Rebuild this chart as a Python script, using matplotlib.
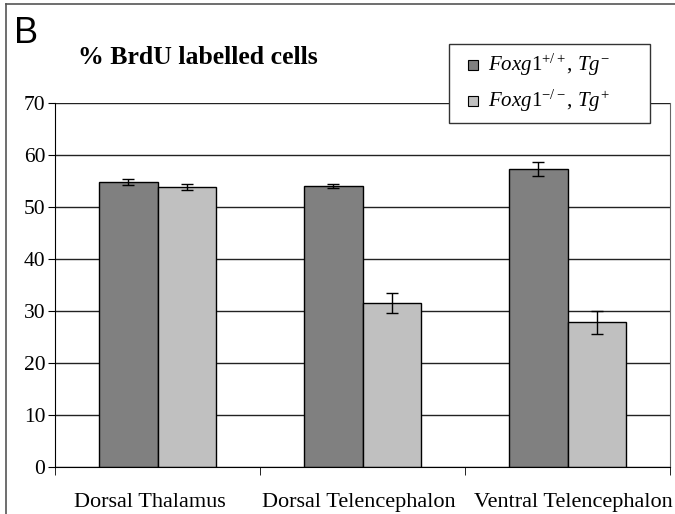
import numpy as np
from matplotlib import pyplot as plt
from matplotlib.lines import Line2D
from matplotlib.patches import Rectangle

# data
categories = ['Dorsal Thalamus', 'Dorsal Telencephalon', 'Ventral Telencephalon']
wt_vals = [54.8, 54.1, 57.3]
wt_err = [0.6, 0.4, 1.35]
ko_vals = [53.8, 31.6, 27.8]
ko_err = [0.6, 1.9, 2.2]
yticks = [0, 10, 20, 30, 40, 50, 60, 70]
series_labels = [r'$\mathit{Foxg1}^{+/+}$, $\mathit{Tg}^{-}$',
                 r'$\mathit{Foxg1}^{-/-}$, $\mathit{Tg}^{+}$']
colors = ['#808080', '#c0c0c0']

plt.rcParams['font.family'] = ['Liberation Serif', 'DejaVu Serif']
plt.rcParams['mathtext.fontset'] = 'custom'
plt.rcParams['mathtext.rm'] = 'Liberation Serif'
plt.rcParams['mathtext.it'] = 'Liberation Serif:italic'

W, H = 675, 514
fig = plt.figure(figsize=(W/100, H/100), dpi=100)
ax = fig.add_axes([55/W, 47/H, 615/W, 364/H])

x = np.arange(len(categories))
w = 0.283
ax.set_axisbelow(True)
ax.yaxis.grid(True, color='#222222', lw=1)
ax.bar(x - w/2, wt_vals, w, color=colors[0], edgecolor='black', lw=1)
ax.bar(x + w/2, ko_vals, w, color=colors[1], edgecolor='black', lw=1)
ax.errorbar(x - w/2, wt_vals, yerr=wt_err, fmt='none', ecolor='black',
            elinewidth=1, capsize=4, capthick=1)
ax.errorbar(x + w/2, ko_vals, yerr=ko_err, fmt='none', ecolor='black',
            elinewidth=1, capsize=4, capthick=1)

ax.set_xlim(-0.5, 2.5)
ax.set_ylim(0, 70)
ax.set_yticks(yticks)
ax.tick_params(axis='y', labelsize=15.5, length=5, direction='out', pad=2)
# labels sit a little off the group centres in the original
ax.set_xticks(x + np.array([-0.035, -0.02, 0.03]))
ax.set_xticklabels(categories, fontsize=16)
ax.tick_params(axis='x', which='major', length=0, pad=19)
ax.set_xticks([-0.5, 0.5, 1.5, 2.5], minor=True)
ax.tick_params(axis='x', which='minor', length=6, direction='out')

ax.spines['top'].set_visible(False)
ax.spines['right'].set_color('#666666')
for s in ['left', 'bottom']:
    ax.spines[s].set_color('black')

# legend box drawn by hand (wide right padding as in the original)
fig.add_artist(Rectangle((449/W, 1 - 123/H), 201/W, 79/H, transform=fig.transFigure,
                         facecolor='white', edgecolor='#333333', lw=1, zorder=5))
for i, (lab, c) in enumerate(zip(series_labels, colors)):
    yc = 1 - (65 + 36*i)/H
    fig.add_artist(Rectangle((468/W, yc - 5/H), 10/W, 10/H, transform=fig.transFigure,
                             facecolor=c, edgecolor='black', lw=0.8, zorder=6))
    fig.text(488/W, yc, lab, fontsize=15, va='center', ha='left', zorder=6)

fig.text(14/W, 1 - 43/H, 'B', fontsize=26, family='Liberation Sans')
fig.text(78/W, 1 - 64/H, '% BrdU labelled cells', fontsize=18.5,
         fontweight='bold')

# frame around the panel (only left and top edges are visible)
fig.add_artist(Line2D([6/W, 6/W], [0, 1 - 4/H], color='#555555', lw=1.2))
fig.add_artist(Line2D([6/W, 1], [1 - 4/H, 1 - 4/H], color='#555555', lw=1.2))

fig.savefig('out.png', dpi=100)
